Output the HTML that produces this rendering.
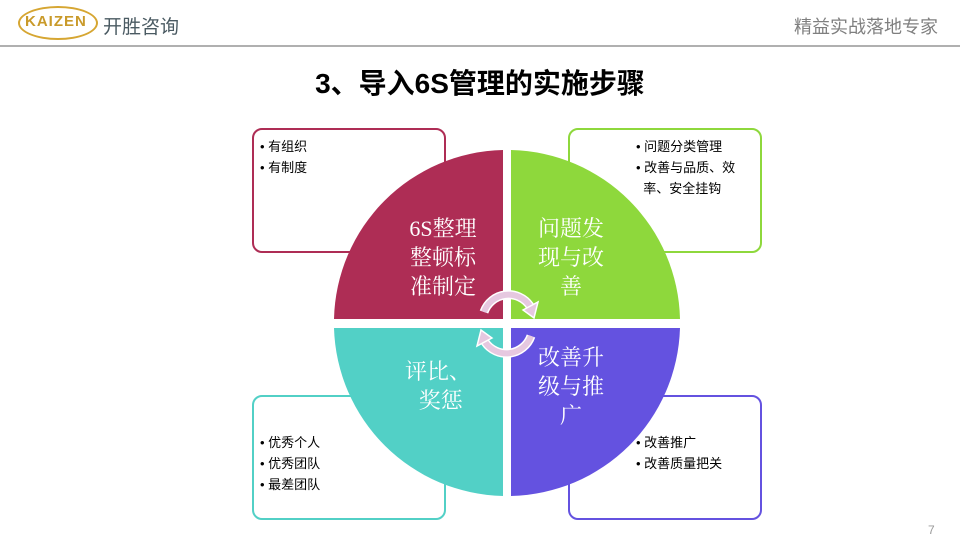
<!DOCTYPE html>
<html><head><meta charset="utf-8"><style>
body{margin:0;width:960px;height:540px;background:#fff;position:relative;overflow:hidden;font-family:"Liberation Sans","Noto Sans CJK SC",sans-serif}
.abs{position:absolute}
.box{position:absolute;width:194px;height:125px;border:2px solid;border-radius:10px;background:#fff;box-sizing:border-box}
.box ul{margin:0;padding:0;list-style:none;font-size:13px;line-height:21px;color:#000}
.box li:before{content:"• ";}
.q{position:absolute;color:#fff;font-size:22px;line-height:29px;text-align:center;font-family:"Liberation Serif","Noto Serif CJK SC",serif}
</style></head><body>
<div class="abs" style="left:18px;top:6px;width:80px;height:34px;border:2px solid #d6a632;border-radius:50%;box-sizing:border-box"></div>
<div class="abs" style="left:25px;top:13px;font-size:15px;font-weight:bold;color:#c99a2a;letter-spacing:1px">KAIZEN</div>
<div class="abs" style="left:103px;top:12px;font-size:19px;color:#4a5a62">开胜咨询</div>
<div class="abs" style="left:794px;top:13px;font-size:18px;color:#7f7f7f">精益实战落地专家</div>
<div class="abs" style="left:0;top:45px;width:960px;height:2px;background:#b0b0b0"></div>
<div class="abs" style="left:0;top:62px;width:960px;text-align:center;font-size:28px;font-weight:bold;color:#000">3、导入6S管理的实施步骤</div>
<div class="abs" style="left:928px;top:523px;font-size:12px;color:#999">7</div>

<div class="box" style="left:252px;top:128px;border-color:#ae2d55"><ul style="padding:6px 0 0 6px"><li>有组织</li><li>有制度</li></ul></div>
<div class="box" style="left:568px;top:128px;border-color:#8ed83c"><ul style="padding:6px 0 0 66px"><li>问题分类管理</li><li>改善与品质、效<br>&nbsp;&nbsp;率、安全挂钩</li></ul></div>
<div class="box" style="left:252px;top:395px;border-color:#52d0c6"><ul style="padding:35px 0 0 6px"><li>优秀个人</li><li>优秀团队</li><li>最差团队</li></ul></div>
<div class="box" style="left:568px;top:395px;border-color:#6452e0"><ul style="padding:35px 0 0 66px"><li>改善推广</li><li>改善质量把关</li></ul></div>

<svg class="abs" style="left:0;top:0" width="960" height="540">
<path d="M503 319 L503 150 A173 173 0 0 0 334 319 Z" fill="#ae2d55"/>
<path d="M511 319 L511 150 A173 173 0 0 1 680 319 Z" fill="#8ed83c"/>
<path d="M503 328 L503 496 A173 173 0 0 1 334 328 Z" fill="#52d0c6"/>
<path d="M511 328 L511 496 A173 173 0 0 0 680 328 Z" fill="#6452e0"/>
<path d="M484 312 A26 26 0 0 1 530 306" fill="none" stroke="#fff" stroke-width="9"/>
<path d="M484 312 A26 26 0 0 1 530 306" fill="none" stroke="#e6c8e0" stroke-width="6"/>
<polygon points="523,310 538,302 534,318" fill="#e6c8e0" stroke="#fff" stroke-width="1.5"/>
<path d="M531 336 A26 26 0 0 1 485 342" fill="none" stroke="#fff" stroke-width="9"/>
<path d="M531 336 A26 26 0 0 1 485 342" fill="none" stroke="#e6c8e0" stroke-width="6"/>
<polygon points="492,338 477,346 481,330" fill="#e6c8e0" stroke="#fff" stroke-width="1.5"/>
</svg>
<div class="q" style="left:398px;top:214px;width:90px">6S整理<br>整顿标<br>准制定</div>
<div class="q" style="left:526px;top:214px;width:90px">问题发<br>现与改<br>善</div>
<div class="q" style="left:393px;top:357px;width:90px">评比、<br>&nbsp;奖惩</div>
<div class="q" style="left:526px;top:343px;width:90px">改善升<br>级与推<br>广</div>
</body></html>
